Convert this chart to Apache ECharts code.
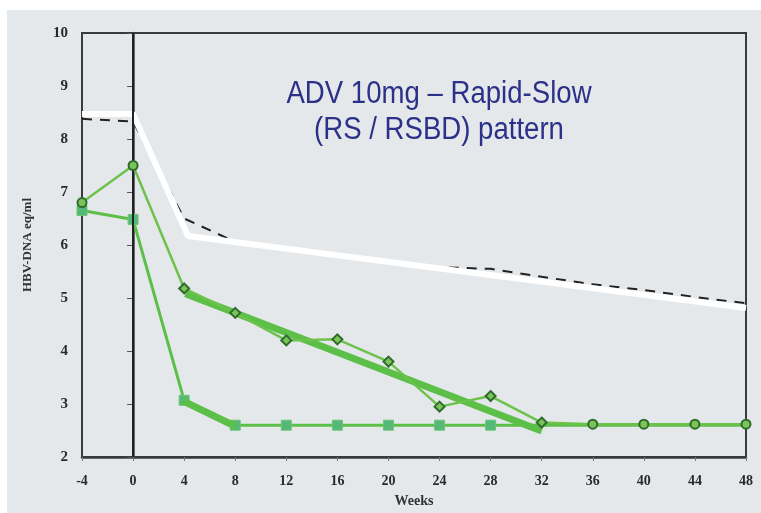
<!DOCTYPE html>
<html>
<head>
<meta charset="utf-8">
<script src="https://cdn.jsdelivr.net/npm/echarts@6/dist/echarts.min.js"></script>
<style>
  html, body { margin: 0; padding: 0; background: #ffffff; }
  #chart { width: 761px; height: 513px; }
</style>
</head>
<body>
<div id="chart"></div>
<script>
// ---- Data ----
const weeks = [-4, 0, 4, 8, 12, 16, 20, 24, 28, 32, 36, 40, 44, 48];
const diamondValues = [6.8, 7.5, 5.18, 4.72, 4.2, 4.22, 3.8, 2.95, 3.15, 2.65, 2.62, 2.62, 2.62, 2.62];
const squareValues = [6.65, 6.48, 3.07, 2.6, 2.6, 2.6, 2.6, 2.6, 2.6, 2.6, 2.6, 2.6, 2.6, 2.6];
const squareMarkerLastWeek = 28;
const dashedValues = [8.38, 8.33, 6.5, 6.06, 5.93, 5.8, 5.68, 5.58, 5.55, 5.4, 5.26, 5.15, 5.02, 4.9];
const whiteTrendWeeks = [-4, 0, 4.3, 48];
const whiteTrendValues = [8.47, 8.47, 6.17, 4.81];
const trendAWeeks = [4.1, 32];
const trendAValues = [5.08, 2.49];
const trendBWeeks = [3.9, 8];
const trendBValues = [3.06, 2.58];
const yTicks = [2, 3, 4, 5, 6, 7, 8, 9, 10];
const titleLines = ['ADV 10mg \u2013 Rapid-Slow', '(RS / RSBD) pattern'];

const pairs = (xs, ys) => xs.map((x, i) => [x, ys[i]]);

const serifFont = '"Liberation Serif", "DejaVu Serif", serif';
const green = '#6cc24a';

const chart = echarts.init(document.getElementById('chart'));
chart.setOption({
  backgroundColor: '#ffffff',
  animation: false,
  graphic: [
    { type: 'rect', z: -10, silent: true, shape: { x: 7, y: 10, width: 754, height: 503 }, style: { fill: '#e5e8eb' } },
    {
      type: 'text', z: 50, x: 439, y: 76, scaleX: 0.89,
      style: {
        text: titleLines.join('\n'), align: 'center', verticalAlign: 'top',
        fill: '#2b3088', fontFamily: '"Liberation Sans", Arial, sans-serif',
        fontSize: 31, lineHeight: 36
      }
    }
  ],
  grid: {
    left: 82, right: 15, top: 33, bottom: 54,
    show: true, borderColor: '#3a3a3a', borderWidth: 2, backgroundColor: 'transparent'
  },
  xAxis: {
    type: 'value', min: -4, max: 48, interval: 4,
    name: 'Weeks', nameLocation: 'middle', nameGap: 37,
    nameTextStyle: { fontFamily: serifFont, fontWeight: 'bold', fontSize: 14, color: '#333' },
    axisLine: { show: true, lineStyle: { color: '#3a3a3a', width: 2.5 } },
    axisTick: { show: true, length: 4, lineStyle: { color: '#777', width: 1 } },
    axisLabel: { margin: 17, fontFamily: serifFont, fontWeight: 'bold', fontSize: 14, color: '#2a2a2a' },
    splitLine: { show: false }
  },
  yAxis: {
    type: 'value', min: yTicks[0], max: yTicks[yTicks.length - 1], interval: 1,
    name: 'HBV-DNA eq/ml', nameLocation: 'middle', nameGap: 48, nameRotate: 90,
    nameTextStyle: { fontFamily: serifFont, fontWeight: 'bold', fontSize: 13, color: '#333' },
    axisLine: { show: true, lineStyle: { color: '#3a3a3a', width: 2.5 } },
    axisTick: { show: true, length: 6, lineStyle: { color: '#555', width: 1 } },
    axisLabel: { margin: 14, fontFamily: serifFont, fontWeight: 'bold', fontSize: 15, color: '#2a2a2a' },
    splitLine: { show: false }
  },
  series: [
    {
      name: 'dashed', type: 'line', z: 2, symbol: 'none',
      data: pairs(weeks, dashedValues),
      lineStyle: { color: '#222', width: 2, type: [10, 8] },
      markLine: {
        silent: true, symbol: 'none', label: { show: false },
        lineStyle: { color: '#222', width: 2, type: 'solid' },
        data: [{ xAxis: 0 }]
      }
    },
    {
      name: 'white trend', type: 'line', z: 3, symbol: 'none', clip: false,
      data: pairs(whiteTrendWeeks, whiteTrendValues),
      lineStyle: { color: '#ffffff', width: 6 }
    },
    {
      name: 'squares', type: 'line', z: 4,
      data: weeks.map((w, i) => ({
        value: [w, squareValues[i]],
        symbol: w <= squareMarkerLastWeek ? 'rect' : 'none'
      })),
      symbolSize: 10,
      lineStyle: { color: '#5cbf48', width: 3 },
      itemStyle: { color: '#55b878', borderColor: '#6cc870', borderWidth: 1 }
    },
    {
      name: 'trend B', type: 'line', z: 5, symbol: 'none',
      data: pairs(trendBWeeks, trendBValues),
      lineStyle: { color: '#5cbf48', width: 7 }
    },
    {
      name: 'trend A', type: 'line', z: 5, symbol: 'none',
      data: pairs(trendAWeeks, trendAValues),
      lineStyle: { color: '#5cbf48', width: 7 }
    },
    {
      name: 'diamonds', type: 'line', z: 6,
      data: weeks.map((w, i) => ({
        value: [w, diamondValues[i]],
        symbol: (w <= 0 || w >= 36) ? 'circle' : 'diamond',
        symbolSize: (w <= 0 || w >= 36) ? 9 : 10
      })),
      lineStyle: { color: green, width: 2.5 },
      itemStyle: { color: '#7cc45a', borderColor: '#2f6b2c', borderWidth: 2 }
    }
  ]
});
</script>
</body>
</html>
